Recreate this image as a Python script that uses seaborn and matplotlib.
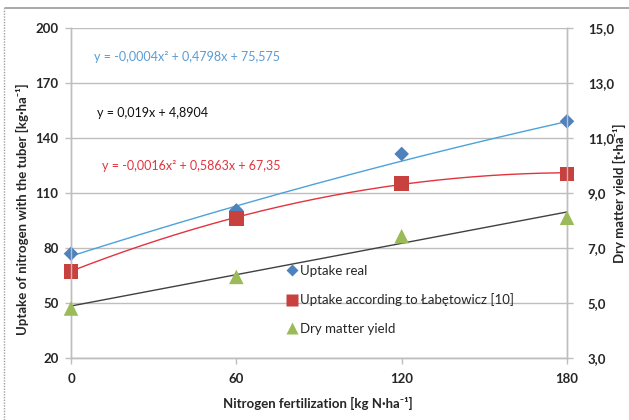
import numpy as np
import pandas as pd
import matplotlib
matplotlib.use("Agg")
import matplotlib.pyplot as plt
from matplotlib.lines import Line2D
from matplotlib.ticker import FuncFormatter, FixedLocator
import seaborn as sns

# Nitrogen doses [kg N/ha]
doses = [0, 60, 120, 180]
# Nitrogen uptake with the tuber [kg/ha]
uptake_real = [76.9, 100.5, 131.3, 149.1]
uptake_labetowicz = [67.2, 96.0, 115.3, 120.4]
# Dry matter yield [t/ha]
dry_matter = [4.8, 5.95, 7.43, 8.1]

# Trendline coefficients (highest power first)
coef_real = [-0.0004, 0.4798, 75.575]
coef_lab = [-0.0016, 0.5863, 67.35]
coef_dry = [0.019, 4.8904]

eq_real = "y = -0,0004x² + 0,4798x + 75,575"
eq_dry = "y = 0,019x + 4,8904"
eq_lab = "y = -0,0016x² + 0,5863x + 67,35"

left_ticks = [20, 50, 80, 110, 140, 170, 200]
right_ticks = [3, 5, 7, 9, 11, 13, 15]
x_ticks = [0, 60, 120, 180]

label_real = "Uptake real"
label_lab = "Uptake according to Łabętowicz [10]"
label_dry = "Dry matter yield"

sns.set_theme(style="white")
plt.rcParams["font.family"] = ["Lato", "DejaVu Sans"]

c_blue = "#4F81BD"
c_blue_line = "#4BA3D9"
c_red = "#C9413F"
c_red_line = "#E2343F"
c_green = "#9BBB59"
c_grid = "#BEBEBE"
c_text = "#262626"

W, H = 629, 420
X0, X1, Y0, Y1 = 71, 567, 28, 358  # plot area in pixels (left, right, top, bottom)
fig = plt.figure(figsize=(W / 100, H / 100), dpi=100)
ax = fig.add_axes([X0 / W, 1 - Y1 / H, (X1 - X0) / W, (Y1 - Y0) / H])
ax2 = ax.twinx()

pts = pd.DataFrame({"dose": doses, "real": uptake_real,
                    "lab": uptake_labetowicz, "dry": dry_matter})
xs = np.linspace(0, 180, 200)
trend = pd.DataFrame({"x": xs,
                      "real": np.polyval(coef_real, xs),
                      "lab": np.polyval(coef_lab, xs),
                      "dry": np.polyval(coef_dry, xs)})

sns.lineplot(data=trend, x="x", y="real", ax=ax, color=c_blue_line, lw=1.0, zorder=3)
sns.lineplot(data=trend, x="x", y="lab", ax=ax, color=c_red_line, lw=1.0, zorder=3)
sns.lineplot(data=trend, x="x", y="dry", ax=ax2, color="#404040", lw=1.0, zorder=3)

sns.scatterplot(data=pts, x="dose", y="real", ax=ax, marker="D", s=55,
                color=c_blue, edgecolor="none", zorder=4, clip_on=False)
sns.scatterplot(data=pts, x="dose", y="lab", ax=ax, marker="s", s=110,
                color=c_red, edgecolor="none", zorder=4, clip_on=False)
sns.scatterplot(data=pts, x="dose", y="dry", ax=ax2, marker="^", s=110,
                color=c_green, edgecolor="none", zorder=4, clip_on=False)

ax.set_xlim(0, 180)
ax.set_ylim(20, 200)
ax2.set_ylim(3, 15)
ax.xaxis.set_major_locator(FixedLocator(x_ticks))
ax.yaxis.set_major_locator(FixedLocator(left_ticks))
ax2.yaxis.set_major_locator(FixedLocator(right_ticks))
ax2.yaxis.set_major_formatter(FuncFormatter(lambda v, p: f"{v:.1f}".replace(".", ",")))

ax.grid(axis="y", color=c_grid, lw=1.0)
ax.set_axisbelow(True)
for a in (ax, ax2):
    a.spines["top"].set_visible(False)
    for s in ("left", "right", "bottom"):
        a.spines[s].set_color(c_grid)
        a.spines[s].set_linewidth(1.0)

ax.tick_params(axis="x", length=4, width=1, color=c_grid, direction="out",
               pad=7, bottom=True)
ax.tick_params(axis="y", length=4, width=1, color=c_grid, direction="out",
               pad=5, left=True)
ax2.tick_params(axis="y", length=4, width=1, color=c_grid, direction="out",
                pad=11, right=True)
for lab in ax.get_xticklabels() + ax.get_yticklabels() + ax2.get_yticklabels():
    lab.set_fontsize(9.5)
    lab.set_fontweight("bold")
    lab.set_color(c_text)

ax.set_xlabel("Nitrogen fertilization [kg N·ha⁻¹]", fontsize=9.5,
              fontweight="bold", color=c_text)
ax.set_ylabel("Uptake of nitrogen with the tuber [kg·ha⁻¹]", fontsize=9.5,
              fontweight="bold", color=c_text)
ax2.set_ylabel("Dry matter yield [t·ha⁻¹]", fontsize=9.5, fontweight="bold",
               color=c_text)
pw, ph = X1 - X0, Y1 - Y0
ax.xaxis.set_label_coords((318 - X0) / pw, -(397 - Y1) / ph)
ax.yaxis.set_label_coords(-(X0 - 29) / pw, (Y1 - 209) / ph)
ax2.yaxis.set_label_coords(1 + (613 - X1) / pw, 0.5)

# Trendline equations
fig.text(94 / W, 1 - 57 / H, eq_real, color="#5B9BD5", fontsize=9, va="center")
fig.text(97 / W, 1 - 113 / H, eq_dry, color="#111111", fontsize=9, va="center")
fig.text(102 / W, 1 - 166 / H, eq_lab, color="#E2343F", fontsize=9, va="center")

# Legend (markers only)
handles = [
    Line2D([], [], ls="none", marker="D", ms=6.5, color=c_blue, mec="none"),
    Line2D([], [], ls="none", marker="s", ms=9, color=c_red, mec="none"),
    Line2D([], [], ls="none", marker="^", ms=9, color=c_green, mec="none"),
]
leg = fig.legend(handles, [label_real, label_lab, label_dry], loc="upper left",
                 bbox_to_anchor=(287 / W, 1 - 265 / H), frameon=False,
                 fontsize=9.5, handlelength=0.8, handletextpad=0.15,
                 labelspacing=1.25, borderpad=0, borderaxespad=0)
for t in leg.get_texts():
    t.set_color(c_text)

# Outer frame of the chart
fig.add_artist(Line2D([5 / W, 1], [1 - 8 / H, 1 - 8 / H], color="#9A9A9A", lw=1.2))
fig.add_artist(Line2D([4 / W, 4 / W], [0, 1 - 8 / H], color="#A0A0A0", lw=1.0,
                      ls=(0, (1, 1))))

fig.savefig("out.png", dpi=100)
